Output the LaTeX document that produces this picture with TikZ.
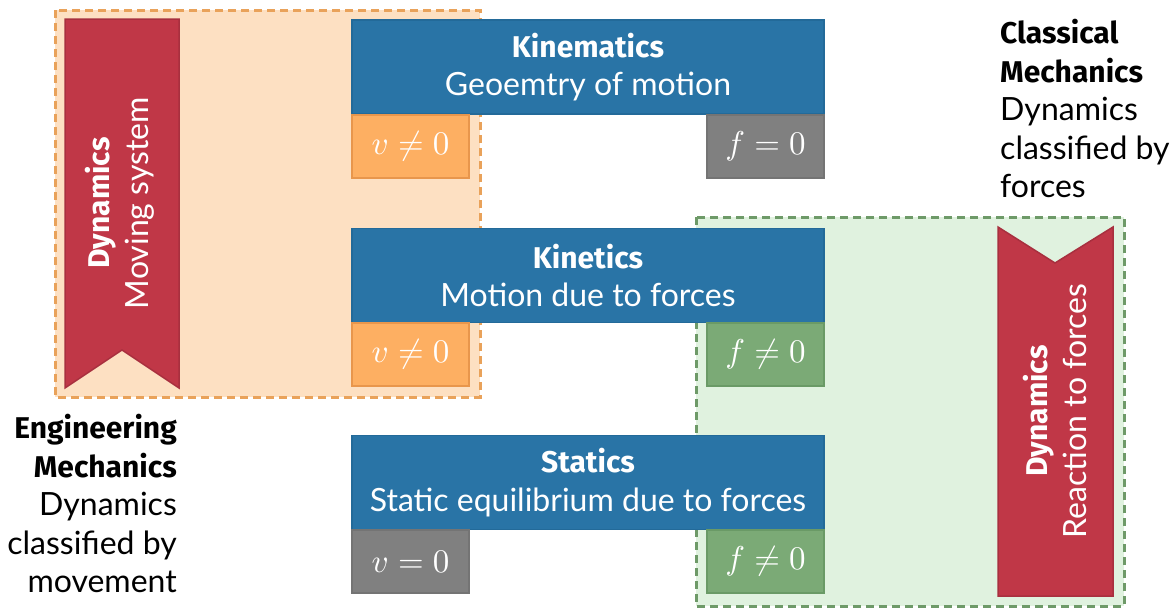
\documentclass[tikz,border=0pt]{standalone}
\usepackage{graphicx}
\usepackage[no-math]{fontspec}
\setmainfont{Lato}
\newfontfamily\hd{Fira Sans}
\newcommand{\hb}[1]{{\fontsize{30}{38.5}\selectfont\hd\bfseries #1}}
\newcommand{\condmath}[1]{\scalebox{3.3}{\fontsize{10}{12}\selectfont$#1$}}
\definecolor{bfill}{HTML}{2974A6}
\definecolor{bdraw}{HTML}{236A99}
\definecolor{ofill}{HTML}{FDAF62}
\definecolor{odraw}{HTML}{E8964C}
\definecolor{gfill}{HTML}{808080}
\definecolor{gdraw}{HTML}{747474}
\definecolor{nfill}{HTML}{7BAA76}
\definecolor{ndraw}{HTML}{6A9A66}
\definecolor{obg}{HTML}{FDE0C2}
\definecolor{obd}{HTML}{E9A25A}
\definecolor{nbg}{HTML}{E0F2DF}
\definecolor{nbd}{HTML}{6E9A68}
\definecolor{rfill}{HTML}{C03747}
\definecolor{rdraw}{HTML}{A8303F}
\tikzset{
  txt/.style={font=\fontsize{32}{38.5}\selectfont},
  bluebox/.style={txt,rectangle,fill=bfill,draw=bdraw,line width=1.5pt,text=white,align=center,minimum width=472pt,minimum height=94pt,inner sep=0pt},
  cond/.style={rectangle,line width=1.5pt,text=white,minimum width=117pt,minimum height=63pt,inner sep=0pt},
  oc/.style={cond,fill=ofill,draw=odraw},
  gc/.style={cond,fill=gfill,draw=gdraw},
  nc/.style={cond,fill=nfill,draw=ndraw},
  bgbox/.style={line width=3pt,dash pattern=on 8pt off 5pt},
  ribbon/.style={fill=rfill,draw=rdraw,line width=1.5pt},
}
\begin{document}
\begin{tikzpicture}[x=1pt,y=-1pt]
\useasboundingbox (0,0) rectangle (1173,608);
% backgrounds
\draw[bgbox,fill=obg,draw=obd] (55,10) rectangle (480,397);
\draw[bgbox,fill=nbg,draw=nbd] (696,217) rectangle (1124,606);
% ribbons
\draw[ribbon] (65,19) -- (179,19) -- (179,388) -- (122,350) -- (65,388) -- cycle;
\draw[ribbon] (998,227) -- (1055,263) -- (1113,227) -- (1113,596) -- (998,596) -- cycle;
\node[txt,text=white,align=center,rotate=90] (rl) at (120,203) {\hb{Dynamics}\\Moving system};
\node[txt,text=white,align=center,rotate=90] (rr) at (1055,411) {\hb{Dynamics}\\Reaction to forces};
% main boxes
\node[bluebox] (kin) at (588,67) {\hb{Kinematics}\\Geoemtry of motion};
\node[oc] (kv) at (410.5,146.5) {\condmath{v\neq 0}};
\node[gc] (kf) at (765.5,146.5) {\condmath{f=0}};
\node[bluebox] (kit) at (588,275.5) {\hb{Kinetics}\\Motion due to forces};
\node[oc] (tv) at (410.5,354.5) {\condmath{v\neq 0}};
\node[nc] (tf) at (765.5,354.5) {\condmath{f\neq 0}};
\node[bluebox] (sta) at (588,482.5) {\hb{Statics}\\Static equilibrium due to forces};
\node[gc] (sv) at (410.5,561.5) {\condmath{v=0}};
\node[nc] (sf) at (765.5,561.5) {\condmath{f\neq 0}};
% side texts
\node[txt,anchor=north east,align=right,inner sep=0pt] (eng) at (177,414) {\hb{Engineering}\\\hb{Mechanics}\\Dynamics\\classified by\\movement};
\node[txt,anchor=north west,align=left,inner sep=0pt] (cla) at (1000,19) {\hb{Classical}\\\hb{Mechanics}\\Dynamics\\classified by\\forces};
\end{tikzpicture}
\end{document}
